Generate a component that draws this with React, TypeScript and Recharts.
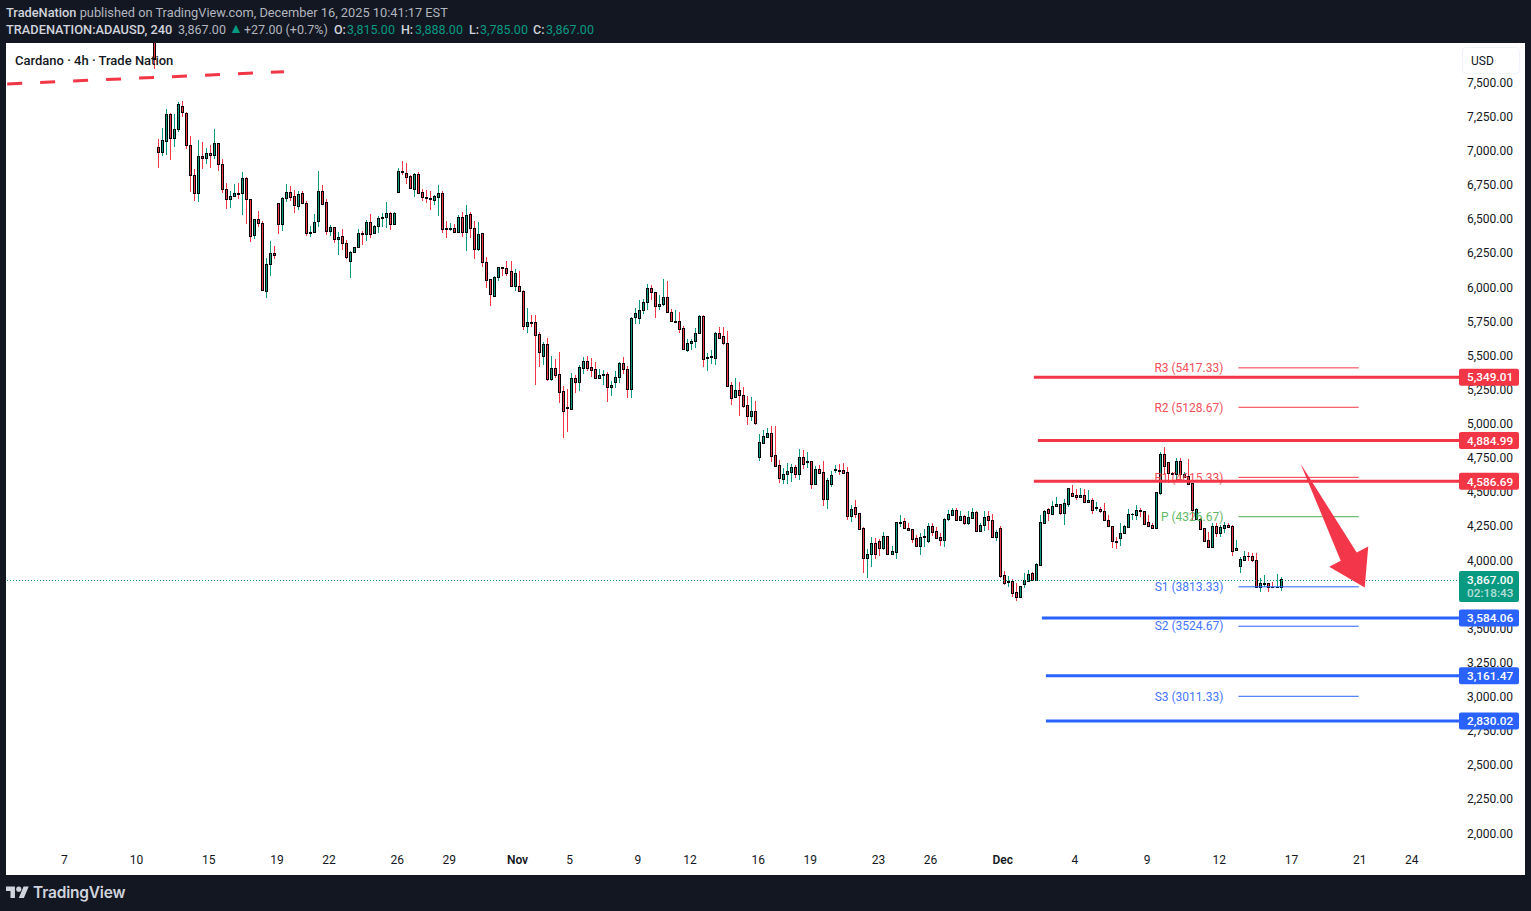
import { Bar, ComposedChart, ReferenceLine, XAxis, YAxis } from 'recharts';

// 4h candles, oldest first. The first one sits mostly above the visible range.
const opens = [
  7900, 7033, 7001, 7077, 7275, 7099, 7165, 7333, 7282, 7048,
  6828, 6696, 6967, 6952, 6989, 6974, 7062, 6908, 6725, 6652,
  6674, 6698, 6696, 6806, 6652, 6388, 6505, 6476, 5978, 6176,
  6256, 6623, 6469, 6659, 6703, 6674, 6601, 6696, 6623, 6408,
  6410, 6491, 6711, 6630, 6418, 6447, 6359, 6381, 6330, 6198,
  6264, 6300, 6403, 6396, 6484, 6403, 6454, 6518, 6520, 6549,
  6469, 6703, 6857, 6847, 6821, 6730, 6835, 6708, 6667, 6664,
  6649, 6671, 6696, 6439, 6437, 6439, 6415, 6520, 6415, 6542,
  6439, 6290, 6402, 6190, 6065, 5946, 6080, 6153, 6146, 6124,
  6019, 6014, 5977, 5726, 5750, 5750, 5663, 5506, 5589, 5338,
  5413, 5370, 5245, 5128, 5118, 5340, 5316, 5418, 5465, 5421,
  5406, 5345, 5362, 5370, 5274, 5311, 5348, 5450, 5406, 5265,
  5787, 5780, 5838, 5897, 5999, 5970, 5873, 5887, 5934, 5824,
  5755, 5758, 5707, 5548, 5597, 5611, 5670, 5795, 5492, 5499,
  5492, 5670, 5648, 5597, 5289, 5206, 5252, 5216, 5143, 5067,
  5099, 4766, 4869, 4913, 4937, 4776, 4703, 4605, 4642, 4657,
  4688, 4642, 4762, 4730, 4732, 4569, 4674, 4652, 4459, 4569,
  4671, 4666, 4666, 4652, 4334, 4395, 4351, 4241, 4027, 4051,
  4132, 4146, 4100, 4183, 4051, 4071, 4280, 4293, 4241, 4235,
  4173, 4112, 4176, 4152, 4257, 4220, 4176, 4159, 4308, 4340,
  4374, 4305, 4330, 4278, 4320, 4359, 4225, 4264, 4330, 4300,
  4181, 4242, 3898, 3851, 3854, 3773, 3741, 3836, 3858, 3912,
  3866, 3976, 4283, 4381, 4349, 4403, 4418, 4357, 4423, 4498,
  4484, 4474, 4488, 4437, 4447, 4393, 4381, 4366, 4303, 4256,
  4146, 4168, 4210, 4254, 4344, 4342, 4373, 4366, 4286, 4266,
  4246, 4503, 4784, 4725, 4647, 4637, 4732, 4620, 4625, 4574,
  4307, 4307, 4242, 4154, 4102, 4259, 4210, 4246, 4263, 4259,
  4080, 3968, 4012, 4041, 4036, 4007, 3809, 3836, 3841, 3812, 3809, 3815,
];
const highs = [
  8000, 7092, 7177, 7314, 7282, 7277, 7363, 7372, 7289, 7116,
  6874, 7087, 7074, 7028, 7050, 7167, 7062, 6945, 6769, 6713,
  6764, 6769, 6852, 6813, 6652, 6505, 6567, 6493, 6225, 6347,
  6310, 6623, 6667, 6764, 6750, 6718, 6711, 6711, 6637, 6457,
  6545, 6860, 6757, 6652, 6464, 6447, 6410, 6432, 6354, 6274,
  6305, 6432, 6422, 6501, 6545, 6464, 6530, 6552, 6632, 6559,
  6559, 6882, 6933, 6918, 6830, 6843, 6852, 6728, 6723, 6713,
  6683, 6757, 6713, 6493, 6476, 6471, 6537, 6561, 6610, 6561,
  6495, 6486, 6402, 6229, 6065, 6090, 6153, 6153, 6200, 6200,
  6139, 6127, 5987, 5855, 5804, 5804, 5680, 5606, 5636, 5504,
  5482, 5533, 5284, 5262, 5377, 5365, 5438, 5494, 5504, 5487,
  5460, 5409, 5401, 5387, 5323, 5394, 5457, 5496, 5431, 5792,
  5855, 5914, 5919, 6031, 6024, 5975, 5953, 6068, 6053, 5848,
  5841, 5826, 5724, 5626, 5626, 5709, 5804, 5804, 5523, 5548,
  5682, 5714, 5714, 5687, 5313, 5343, 5313, 5277, 5211, 5204,
  5174, 4933, 4962, 4979, 4991, 4991, 4742, 4683, 4722, 4713,
  4703, 4823, 4815, 4798, 4735, 4701, 4705, 4735, 4613, 4661,
  4703, 4713, 4720, 4691, 4412, 4449, 4351, 4249, 4088, 4178,
  4171, 4163, 4215, 4183, 4112, 4285, 4339, 4315, 4278, 4235,
  4193, 4205, 4235, 4279, 4279, 4249, 4205, 4315, 4376, 4388,
  4388, 4369, 4340, 4369, 4388, 4366, 4279, 4369, 4369, 4347,
  4230, 4259, 3929, 3893, 3868, 3839, 3822, 3912, 3937, 3922,
  3985, 4340, 4376, 4388, 4442, 4471, 4420, 4454, 4535, 4559,
  4528, 4535, 4527, 4522, 4461, 4437, 4400, 4430, 4339, 4261,
  4180, 4278, 4266, 4381, 4351, 4412, 4388, 4368, 4339, 4278,
  4510, 4803, 4837, 4730, 4657, 4754, 4754, 4657, 4749, 4576,
  4388, 4315, 4246, 4217, 4278, 4278, 4266, 4290, 4278, 4263,
  4156, 4034, 4075, 4071, 4063, 4063, 3875, 3900, 3844, 3851, 3907, 3888,
];
const lows = [
  7607, 6884, 6972, 6977, 6943, 7038, 7148, 7258, 7021, 6706,
  6642, 6635, 6874, 6911, 6884, 6945, 6860, 6701, 6584, 6591,
  6672, 6657, 6537, 6471, 6342, 6364, 6452, 5985, 5932, 6093,
  6217, 6400, 6422, 6635, 6640, 6554, 6576, 6615, 6386, 6379,
  6403, 6452, 6608, 6391, 6386, 6335, 6244, 6283, 6217, 6076,
  6256, 6300, 6320, 6347, 6371, 6400, 6403, 6447, 6442, 6427,
  6466, 6703, 6833, 6762, 6728, 6669, 6696, 6642, 6628, 6574,
  6610, 6532, 6407, 6368, 6420, 6412, 6407, 6376, 6276, 6368,
  6214, 6273, 6158, 6002, 5870, 5946, 6056, 6090, 6090, 6019,
  5980, 5975, 5694, 5675, 5719, 5291, 5426, 5438, 5323, 5323,
  5343, 5162, 4906, 4947, 5118, 5235, 5247, 5372, 5396, 5348,
  5345, 5340, 5291, 5169, 5211, 5269, 5308, 5372, 5199, 5199,
  5738, 5741, 5812, 5841, 5914, 5785, 5841, 5873, 5816, 5755,
  5755, 5672, 5558, 5533, 5548, 5563, 5668, 5423, 5394, 5445,
  5438, 5633, 5585, 5287, 5147, 5206, 5067, 5123, 4998, 5030,
  4998, 4735, 4864, 4908, 4727, 4693, 4576, 4566, 4566, 4581,
  4608, 4596, 4676, 4683, 4530, 4559, 4649, 4405, 4383, 4547,
  4644, 4632, 4640, 4302, 4290, 4315, 4227, 3917, 3880, 3961,
  4019, 4039, 4083, 4046, 4046, 4019, 4254, 4239, 4222, 4132,
  4112, 4046, 4108, 4132, 4186, 4161, 4112, 4108, 4298, 4332,
  4303, 4303, 4266, 4269, 4315, 4225, 4217, 4225, 4230, 4178,
  4149, 3880, 3827, 3814, 3741, 3710, 3741, 3802, 3851, 3863,
  3863, 3976, 4283, 4296, 4347, 4401, 4342, 4266, 4401, 4469,
  4449, 4469, 4430, 4430, 4347, 4371, 4351, 4298, 4259, 4095,
  4090, 4112, 4200, 4249, 4300, 4303, 4327, 4273, 4259, 4242,
  4246, 4483, 4640, 4576, 4632, 4579, 4600, 4615, 4559, 4303,
  4303, 4229, 4146, 4102, 4097, 4176, 4180, 4205, 4242, 4039,
  4075, 3917, 4005, 4005, 3997, 3802, 3778, 3809, 3778, 3802, 3804, 3785,
];
const closes = [
  7680, 7001, 7084, 7275, 7099, 7165, 7348, 7289, 7048, 6828,
  6696, 6967, 6957, 6989, 6974, 7062, 6908, 6725, 6652, 6674,
  6696, 6694, 6806, 6652, 6381, 6505, 6476, 5985, 6176, 6256,
  6242, 6469, 6659, 6703, 6667, 6608, 6689, 6623, 6403, 6410,
  6484, 6711, 6615, 6418, 6447, 6359, 6374, 6330, 6227, 6264,
  6300, 6403, 6396, 6484, 6396, 6454, 6513, 6520, 6549, 6469,
  6549, 6857, 6855, 6818, 6733, 6835, 6696, 6667, 6664, 6657,
  6674, 6696, 6437, 6437, 6439, 6415, 6520, 6415, 6534, 6444,
  6290, 6395, 6195, 6063, 5960, 6083, 6153, 6146, 6114, 6019,
  6109, 5977, 5726, 5750, 5748, 5660, 5531, 5589, 5338, 5413,
  5367, 5243, 5103, 5120, 5340, 5316, 5421, 5465, 5418, 5404,
  5345, 5362, 5370, 5274, 5289, 5348, 5450, 5406, 5265, 5780,
  5816, 5838, 5897, 5999, 5975, 5868, 5882, 5934, 5824, 5758,
  5758, 5704, 5558, 5597, 5611, 5670, 5795, 5484, 5494, 5502,
  5670, 5638, 5597, 5287, 5194, 5252, 5216, 5140, 5067, 5099,
  5016, 4871, 4915, 4937, 4774, 4701, 4613, 4637, 4659, 4688,
  4642, 4762, 4715, 4732, 4569, 4674, 4649, 4459, 4593, 4630,
  4674, 4664, 4649, 4334, 4381, 4349, 4239, 4027, 4051, 4132,
  4056, 4100, 4183, 4051, 4073, 4285, 4285, 4241, 4232, 4166,
  4112, 4176, 4183, 4257, 4217, 4173, 4159, 4308, 4344, 4374,
  4305, 4330, 4278, 4322, 4359, 4225, 4264, 4322, 4300, 4181,
  4213, 3895, 3844, 3854, 3771, 3741, 3817, 3861, 3905, 3863,
  3978, 4286, 4366, 4357, 4403, 4418, 4357, 4425, 4535, 4481,
  4474, 4486, 4437, 4447, 4378, 4398, 4366, 4303, 4261, 4146,
  4144, 4207, 4259, 4347, 4349, 4373, 4366, 4276, 4261, 4246,
  4505, 4784, 4701, 4644, 4642, 4732, 4637, 4640, 4564, 4376,
  4381, 4239, 4151, 4107, 4259, 4207, 4249, 4263, 4249, 4078,
  4095, 4017, 4039, 4036, 4007, 3809, 3841, 3841, 3809, 3809, 3812, 3867,
];

// blank bars either side of the candles, so the time scale runs edge to edge
const BARS_BEFORE = 36;
const LAST_BAR = 326;

const dayLabels = ['7', '10', '15', '19', '22', '26', '29', 'Nov', '5', '9', '12', '16', '19', '23', '26', 'Dec', '4', '9', '12', '17', '21', '24'];
const dayBars = [-22, -4, 14, 31, 44, 61, 74, 91, 104, 121, 134, 151, 164, 181, 194, 212, 230, 248, 266, 284, 301, 314];

const priceTicks = [2000, 2250, 2500, 2750, 3000, 3250, 3500, 3750, 4000, 4250, 4500, 4750, 5000, 5250, 5500, 5750, 6000, 6250, 6500, 6750, 7000, 7250, 7500];
const PRICE_DOMAIN = [1922, 7797];

const pivotNames = ['R3', 'R2', 'R1', 'P', 'S1', 'S2', 'S3'];
const pivotValues = [5417.33, 5128.67, 4615.33, 4326.67, 3813.33, 3524.67, 3011.33];

const resistanceLevels = [5349.01, 4884.99, 4586.69];
const resistanceStarts = [220, 221, 220];
const supportLevels = [3584.06, 3161.47, 2830.02];
const supportStarts = [222, 223, 223];

const LAST_PRICE = 3867;

const RED = '#F23645';
const GREEN = '#089981';
const BLUE = '#2962FF';
const FONT = 'Roboto, sans-serif';

const CHART_W = 1531;
const CHART_H = 875;
const CHART_MARGIN = { top: 43, right: 0, bottom: 0, left: 7.2 };

const chartData = Array.from({ length: BARS_BEFORE + LAST_BAR + 1 }, (_, i) => {
  const bar = i - BARS_BEFORE;
  return { bar, open: opens[bar], high: highs[bar], low: lows[bar], close: closes[bar] };
});

const fmt = (v: number) => v.toLocaleString('en-US', { minimumFractionDigits: 2, maximumFractionDigits: 2 });

function Candle(props: any) {
  const { x, y, width, height, payload } = props;
  if (payload.open === undefined) return null;
  const { open, high, low, close } = payload;
  const toY = (v: number) => y + ((high - v) / (high - low)) * height;
  const px = Math.floor(x + width / 2);
  const colour = close >= open ? GREEN : RED;
  const top = Math.round(toY(Math.max(open, close)));
  const bodyH = Math.max(1, Math.round(toY(Math.min(open, close))) - top + 1);
  return (
    <g shapeRendering="crispEdges">
      <rect x={px} y={y} width={1} height={height} fill={colour} />
      <rect x={px - 1} y={top} width={3} height={bodyH} fill="#000000" />
      {bodyH > 2 && <rect x={px} y={top + 1} width={1} height={bodyH - 2} fill={colour} />}
    </g>
  );
}

function PriceTick({ x, y, payload }: any) {
  return (
    <text x={x - 6} y={y} dy={3.2} fill="#131722" fontSize={12} fontFamily={FONT}>
      {fmt(payload.value)}
    </text>
  );
}

function DayTick({ x, y, payload }: any) {
  const label = dayLabels[dayBars.indexOf(payload.value)];
  const isMonth = label === 'Nov' || label === 'Dec';
  return (
    <text x={x - 1} y={y} dy={11} textAnchor="middle" fill="#131722" fontSize={12} fontFamily={FONT} fontWeight={isMonth ? 600 : 400}>
      {label}
    </text>
  );
}

// axis badge at the right end of a level line
function Badge({ viewBox, colour, text, sub }: any) {
  const left = viewBox.x + viewBox.width;
  const h = sub ? 31 : 17;
  const top = viewBox.y - 8.5;
  return (
    <g fontFamily={FONT} fontSize={11.8}>
      <rect x={left} y={top} width={60} height={h} rx={2} fill={colour} />
      <text x={left + 8} y={top + 12.8} fill="#ffffff" fontWeight={500}>{text}</text>
      {sub && <text x={left + 8} y={top + 26.5} fill="#ffffff" fillOpacity={0.7} fontWeight={500}>{sub}</text>}
    </g>
  );
}

// last price line, snapped to a pixel row so the dots stay sharp
function DottedLine({ x1, y1, x2 }: any) {
  const row = Math.ceil(y1) + 0.5;
  return <line x1={Math.floor(x1)} y1={row} x2={x2} y2={row} stroke={GREEN} strokeWidth={1} strokeDasharray="1 2" />;
}

// flat-headed arrow between the two ends of a segment
function ArrowShape({ x1, y1, x2, y2 }: any) {
  const dx = x2 - x1;
  const dy = y2 - y1;
  const len = Math.hypot(dx, dy);
  const ux = dx / len;
  const uy = dy / len;
  const at = (along: number, side: number) => `${x1 + ux * along - uy * side},${y1 + uy * along + ux * side}`;
  const neck = len * 0.75;
  const points = [at(0, 0), at(neck, -9), at(neck, -22), `${x2},${y2}`, at(neck, 22), at(neck, 9)].join(' ');
  return <polygon points={points} fill="#F4364A" />;
}

const HEADER_BITS: [number, string, string, number][] = [
  [6, 'TRADENATION:ADAUSD, 240', '#D1D4DC', 500],
  [178, '3,867.00', '#B2B5BE', 400],
  [244, '+27.00 (+0.7%)', '#B2B5BE', 400],
  [334, 'O:', '#D1D4DC', 500],
  [347, '3,815.00', GREEN, 400],
  [401, 'H:', '#D1D4DC', 500],
  [415, '3,888.00', GREEN, 400],
  [469, 'L:', '#D1D4DC', 500],
  [480, '3,785.00', GREEN, 400],
  [533, 'C:', '#D1D4DC', 500],
  [546, '3,867.00', GREEN, 400],
];

export default function App() {
  return (
    <div style={{ position: 'absolute', left: 0, top: 0, width: 1531, height: 911, background: '#131722', overflow: 'hidden', fontFamily: FONT }}>
      <div style={{ position: 'absolute', left: 6, top: 5, fontSize: 12.8, lineHeight: '15px', color: '#B2B5BE', whiteSpace: 'nowrap' }}>
        <span style={{ color: '#D1D4DC', fontWeight: 500 }}>TradeNation</span> published on TradingView.com, December 16, 2025 10:41:17 EST
      </div>
      {HEADER_BITS.map(([left, text, color, weight], i) => (
        <span key={i} style={{ position: 'absolute', left, top: 22, fontSize: i === 0 ? 12.8 : 12.5, lineHeight: '15px', color, fontWeight: weight, whiteSpace: 'nowrap' }}>
          {text}
        </span>
      ))}
      <span style={{ position: 'absolute', left: 229, top: 21, fontSize: 14, lineHeight: '15px', color: GREEN }}>▲</span>

      <div style={{ position: 'absolute', left: 6, top: 43, width: 1519, height: 832, background: '#ffffff' }} />

      {/* the price labels live in their own chart underneath, so the badges can cover them */}
      <div style={{ position: 'absolute', left: 0, top: 0 }}>
        <ComposedChart width={CHART_W} height={CHART_H} data={chartData} margin={CHART_MARGIN}>
          <XAxis dataKey="bar" type="category" allowDuplicatedCategory={false} height={30} axisLine={false} tickLine={false} tick={false} />
          <YAxis
            orientation="right"
            width={68}
            domain={PRICE_DOMAIN}
            allowDataOverflow
            ticks={priceTicks}
            interval={0}
            tickMargin={4}
            axisLine={false}
            tickLine={false}
            tick={<PriceTick />}
          />
        </ComposedChart>
      </div>

      <div style={{ position: 'absolute', left: 0, top: 0 }}>
        <ComposedChart width={CHART_W} height={CHART_H} data={chartData} margin={CHART_MARGIN} barSize={3}>
          <XAxis
            dataKey="bar"
            type="category"
            allowDuplicatedCategory={false}
            ticks={dayBars}
            interval={0}
            height={30}
            axisLine={false}
            tickLine={false}
            tick={<DayTick />}
          />
          <YAxis orientation="right" width={68} domain={PRICE_DOMAIN} allowDataOverflow axisLine={false} tickLine={false} tick={false} />

          {pivotNames.map((name, i) => {
            const colour = name[0] === 'R' ? RED : name === 'P' ? '#4CAF50' : BLUE;
            return (
              <ReferenceLine
                key={name}
                segment={[{ x: 271, y: pivotValues[i] }, { x: 301, y: pivotValues[i] }]}
                position="start"
                stroke={colour}
                strokeWidth={1}
                ifOverflow="visible"
                label={{ value: `${name} (${pivotValues[i]})`, position: 'left', offset: 15, fill: colour, fillOpacity: 0.9, fontSize: 12, fontFamily: FONT }}
              />
            );
          })}

          <ReferenceLine
            segment={[{ x: -BARS_BEFORE, y: LAST_PRICE }, { x: LAST_BAR, y: LAST_PRICE }]}
            position="start"
            ifOverflow="visible"
            shape={<DottedLine />}
          />

          <Bar dataKey={(d: any) => (d.open === undefined ? null : [d.low, d.high])} shape={<Candle />} isAnimationActive={false} />

          <ReferenceLine
            segment={[{ x: -36, y: 7497 }, { x: 33, y: 7587 }]}
            position="start"
            stroke={RED}
            strokeWidth={3}
            strokeDasharray="15 18"
            ifOverflow="visible"
          />

          {resistanceLevels.map((v, i) => (
            <ReferenceLine
              key={v}
              segment={[{ x: resistanceStarts[i], y: v }, { x: LAST_BAR, y: v }]}
              position="start"
              stroke={RED}
              strokeWidth={3}
              ifOverflow="visible"
              label={<Badge colour={RED} text={fmt(v)} />}
            />
          ))}
          {supportLevels.map((v, i) => (
            <ReferenceLine
              key={v}
              segment={[{ x: supportStarts[i], y: v }, { x: LAST_BAR, y: v }]}
              position="start"
              stroke={BLUE}
              strokeWidth={3}
              ifOverflow="visible"
              label={<Badge colour={BLUE} text={fmt(v)} />}
            />
          ))}
          <ReferenceLine
            segment={[{ x: -BARS_BEFORE, y: LAST_PRICE }, { x: LAST_BAR, y: LAST_PRICE }]}
            position="start"
            stroke="none"
            ifOverflow="visible"
            label={<Badge colour={GREEN} text={fmt(LAST_PRICE)} sub="02:18:43" />}
          />

          <ReferenceLine
            segment={[{ x: 286, y: 4715 }, { x: 302, y: 3808 }]}
            ifOverflow="visible"
            shape={<ArrowShape />}
          />
        </ComposedChart>
      </div>

      <div style={{ position: 'absolute', left: 15, top: 53, fontSize: 13, lineHeight: '16px', fontWeight: 500, color: '#131722', whiteSpace: 'nowrap' }}>
        Cardano · 4h · Trade Nation
      </div>
      <div style={{ position: 'absolute', left: 1462, top: 47, width: 58, height: 27, boxSizing: 'border-box', border: '1px solid #F0F3FA', borderRadius: 4, background: '#ffffff', boxShadow: '0 0 0 3px #ffffff', fontSize: 12, lineHeight: '27px', paddingLeft: 8, color: '#131722' }}>
        USD
      </div>

      <div style={{ position: 'absolute', left: 6, top: 883, display: 'flex', alignItems: 'center', color: '#D1D4DC' }}>
        <svg width={23} height={18} viewBox="0 0 36 28" style={{ marginRight: 4 }}>
          <path fill="#D1D4DC" d="M14 22H7V11H0V4h14v18zM28 22h-8l7.5-18h8L28 22z" />
          <circle fill="#D1D4DC" cx="20" cy="8" r="4" />
        </svg>
        <span style={{ fontSize: 15.5, fontWeight: 600, fontFamily: 'Inter, sans-serif', letterSpacing: -0.2 }}>TradingView</span>
      </div>
    </div>
  );
}
